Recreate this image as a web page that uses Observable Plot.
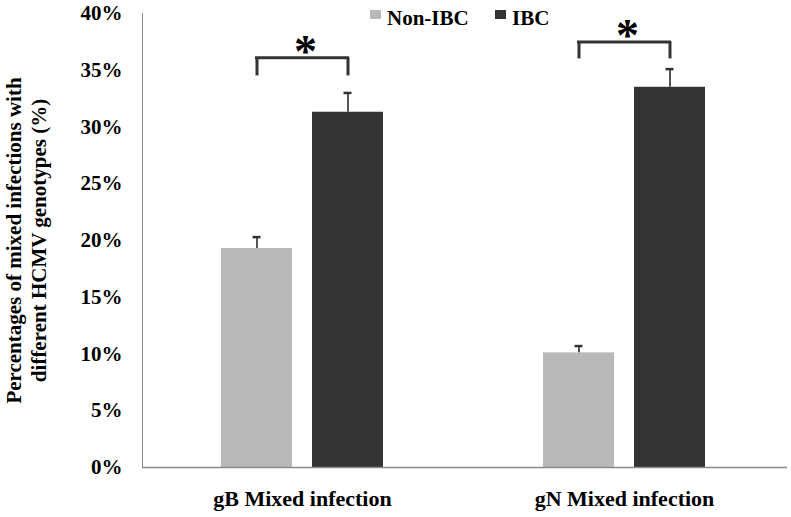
<!DOCTYPE html>
<html>
<head>
<meta charset="utf-8">
<script src="https://cdn.jsdelivr.net/npm/d3@7"></script>
<script src="https://cdn.jsdelivr.net/npm/@observablehq/plot@0.6"></script>
<style>
  body { margin: 0; background: #fff; }
  #wrap { position: relative; width: 791px; height: 517px; }
  #legend { position: absolute; left: 0; top: 0; font: bold 21px "Liberation Serif", "Times New Roman", serif; line-height: 21px; color: #000; }
  #legend .item { position: absolute; top: 8px; white-space: nowrap; }
  #legend .sw { position: absolute; top: 2px; width: 11px; height: 9px; }
  svg text { fill: #000; }
  svg [aria-label^="x-axis"] text { font-size: 22px; }
  svg [aria-label^="y-axis"] text { font-size: 21px; }
</style>
</head>
<body>
<div id="wrap"><div id="legend"></div></div>
<script>
// ---- data ----
const categories = ["gB Mixed infection", "gN Mixed infection"];
const seriesNames = ["Non-IBC", "IBC"];
const seriesColors = ["#b9b9b9", "#333333"];
const nonIBC = [19.3, 10.1];
const nonIBCErr = [1.0, 0.6];
const ibc = [31.3, 33.5];
const ibcErr = [1.7, 1.6];
const yTicks = [0, 5, 10, 15, 20, 25, 30, 35, 40];
// significance brackets (percent levels)
const bracketTop = [36.1, 37.5];
const bracketLeg = [34.5, 36.0];
const starLevel = [37.3, 38.7];
const starText = ["*", "*"];
const yTitle = "Percentages of mixed infections with\ndifferent HCMV genotypes (%)";

// ---- tables ----
const rows = categories.flatMap((c, i) => [
  {category: c, series: seriesNames[0], value: nonIBC[i], err: nonIBCErr[i]},
  {category: c, series: seriesNames[1], value: ibc[i], err: ibcErr[i]}
]);
const left = rows.filter(d => d.series === seriesNames[0]);
const right = rows.filter(d => d.series === seriesNames[1]);
const brackets = categories.map((c, i) => ({category: c, top: bracketTop[i], leg: bracketLeg[i], star: starLevel[i], text: starText[i]}));

const off = 45.5; // half distance between bar centres within a group
const errColor = "#555";
const brColor = "#333";

const chart = Plot.plot({
  width: 791,
  height: 517,
  marginLeft: 142,
  marginRight: 4,
  marginTop: 13,
  marginBottom: 50,
  style: {fontFamily: '"Liberation Serif", "Times New Roman", serif', fontWeight: "bold", fontSize: "20px", color: "#8a8a8a", background: "#fff"},
  x: {domain: categories, range: [221, 705], paddingInner: 0.497, paddingOuter: 0, tickSize: 0, tickPadding: 23, label: null},
  y: {domain: [0, 40], ticks: yTicks, tickFormat: d => d + "%", tickSize: 0, tickPadding: 20, label: null, line: true},
  color: {domain: seriesNames, range: seriesColors},
  marks: [
    Plot.barY(left, {x: "category", y: "value", fill: "series", insetRight: 91}),
    Plot.barY(right, {x: "category", y: "value", fill: "series", insetLeft: 91}),
    // error bars
    Plot.ruleX(left, {x: "category", y1: "value", y2: d => d.value + d.err, dx: -off, stroke: errColor, strokeWidth: 2}),
    Plot.ruleX(right, {x: "category", y1: "value", y2: d => d.value + d.err, dx: off, stroke: errColor, strokeWidth: 2}),
    Plot.tickY(left, {x: "category", y: d => d.value + d.err, dx: -off, insetLeft: 77, insetRight: 77, stroke: "#333", strokeWidth: 2.5}),
    Plot.tickY(right, {x: "category", y: d => d.value + d.err, dx: off, insetLeft: 77, insetRight: 77, stroke: "#333", strokeWidth: 2.5}),
    // x axis line
    Plot.ruleY([0], {stroke: "#8a8a8a", strokeWidth: 1.5}),
    // significance brackets
    Plot.tickY(brackets, {x: "category", y: "top", insetLeft: 81 - off - 1.5, insetRight: 81 - off - 1.5, stroke: brColor, strokeWidth: 3}),
    Plot.ruleX(brackets, {x: "category", y1: "leg", y2: "top", dx: -off, stroke: brColor, strokeWidth: 3}),
    Plot.ruleX(brackets, {x: "category", y1: "leg", y2: "top", dx: off, stroke: brColor, strokeWidth: 3}),
    Plot.text(brackets, {x: "category", y: "star", text: "text", dx: 3, dy: 8, fontSize: 46, fontWeight: "bold", fill: "#111"}),
    // y title
    Plot.text([yTitle], {frameAnchor: "left", textAnchor: "middle", text: d => d, rotate: -90, dx: -117, lineHeight: 1.2, fontSize: 21, fontWeight: "bold", fill: "#000"})
  ]
});
document.getElementById("wrap").appendChild(chart);

// legend overlay
const legend = document.getElementById("legend");
const legendX = [387, 512];
seriesNames.forEach((s, i) => {
  const item = document.createElement("div");
  item.className = "item";
  item.style.left = legendX[i] + "px";
  const sw = document.createElement("span");
  sw.className = "sw";
  sw.style.left = "-17px";
  sw.style.background = seriesColors[i];
  item.appendChild(sw);
  item.appendChild(document.createTextNode(s));
  legend.appendChild(item);
});
</script>
</body>
</html>
